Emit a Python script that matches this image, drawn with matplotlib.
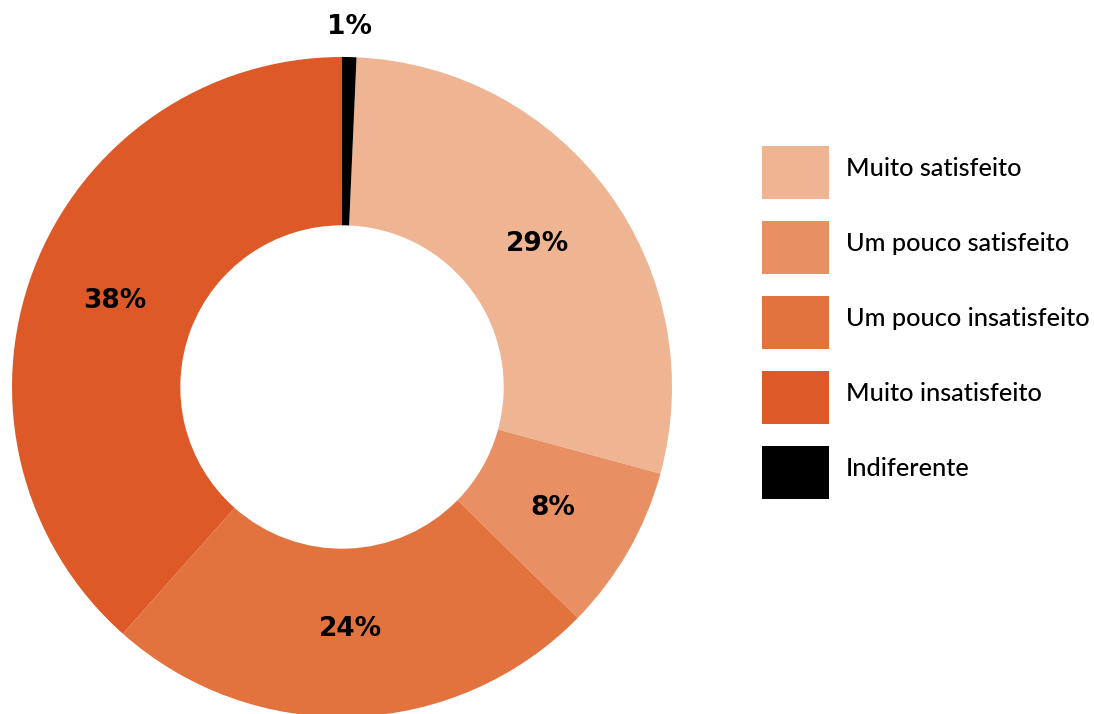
import matplotlib
matplotlib.use("Agg")
import matplotlib.pyplot as plt
import matplotlib.transforms as mtransforms
import numpy as np

categories = ["Muito satisfeito", "Um pouco satisfeito", "Um pouco insatisfeito",
              "Muito insatisfeito", "Indiferente"]
values = [28.5, 8.1, 24.2, 38.4, 0.7]
colors = ["#EFB593", "#E89064", "#E2733F", "#DD5A28", "#000000"]

W, H = 1094, 714
fig = plt.figure(figsize=(W / 100, H / 100), dpi=100)
cx, cy, R = 342, 387, 330
ax = fig.add_axes([(cx - R) / W, (H - cy - R) / H, 2 * R / W, 2 * R / H])

start = 90 - values[-1] / sum(values) * 360
wedges, texts, autotexts = ax.pie(
    values, colors=colors, startangle=start, counterclock=False,
    radius=1, wedgeprops=dict(width=0.51, linewidth=0),
    autopct="%.0f%%", pctdistance=0.735,
    textprops=dict(fontfamily="DejaVu Sans", fontweight="bold", fontsize=19, color="black"))
# small slice label outside
w = wedges[-1]
ang = np.deg2rad((w.theta1 + w.theta2) / 2)
autotexts[-1].set_position((1.09 * np.cos(ang), 1.09 * np.sin(ang)))

ax.set_xlim(-1, 1)
ax.set_ylim(-1, 1)
ax.set_aspect("equal")
ax.axis("off")

fs = 18.2
em = fs * 100 / 72
hh = (53 / em - 0.245) / 0.65
leg = fig.legend(wedges, categories, loc="upper left",
                 bbox_to_anchor=(762 / W, 1 - 146 / H), frameon=False,
                 borderpad=0, borderaxespad=0,
                 handlelength=67 / em, handleheight=hh,
                 labelspacing=22 / em, handletextpad=17 / em,
                 prop=dict(family="Lato", size=fs, weight="medium"))
for t in leg.get_texts():
    t.set_transform(t.get_transform() +
                    mtransforms.ScaledTranslation(0, 4 / 100, fig.dpi_scale_trans))

fig.savefig("out.png", dpi=100)
